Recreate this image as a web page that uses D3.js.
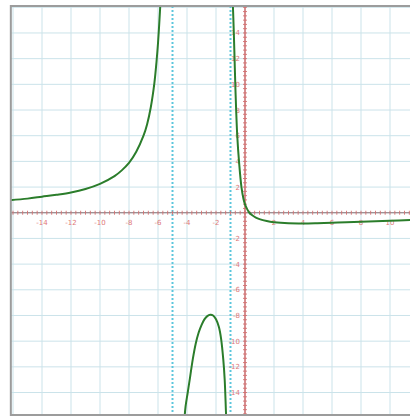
<!DOCTYPE html>
<html>
<head>
<meta charset="utf-8">
<script src="https://cdn.jsdelivr.net/npm/d3@7"></script>
<style>
  html, body { margin: 0; padding: 0; background: #ffffff; }
  svg { display: block; }
</style>
</head>
<body>
<svg id="chart" width="410" height="420"></svg>
<script>
// Tick labels on the two axes
const xTickLabels = [-14, -12, -10, -8, -6, -4, -2, 2, 4, 6, 8, 10];
const yTickLabels = [14, 12, 10, 8, 6, 4, 2, -2, -4, -6, -8, -10, -12, -14];

// Vertical asymptotes
const asymptotes = [-5, -1];

// Left branch (x < -5)
const leftX = [-16.2, -15, -14, -13, -12, -11, -10, -9, -8.5, -8, -7.5, -7, -6.75, -6.5, -6.25, -6.1, -6.0, -5.9, -5.82];
const leftY = [0.98, 1.1, 1.25, 1.4, 1.58, 1.85, 2.25, 2.85, 3.3, 3.88, 4.75, 6.0, 6.9, 8.2, 10.1, 11.8, 13.2, 15.0, 16.6];

// Middle branch (-5 < x < -1)
const midX = [-4.2, -4.1, -3.95, -3.8, -3.6, -3.4, -3.2, -3.0, -2.8, -2.6, -2.4, -2.2, -2.0, -1.8, -1.65, -1.5, -1.4, -1.31, -1.27];
const midY = [-16.4, -15.1, -14.0, -12.9, -11.4, -10.2, -9.35, -8.75, -8.3, -8.05, -7.95, -8.0, -8.3, -8.9, -9.8, -11.4, -13.0, -15.6, -16.6];

// Right branch (x > -1)
const rightX = [-0.85, -0.77, -0.72, -0.67, -0.61, -0.53, -0.41, -0.24, -0.1, 0, 0.15, 0.3, 0.5, 0.75, 1.0, 1.5, 2, 3, 4, 5, 6, 7, 8, 9, 10, 11, 12];
const rightY = [16.6, 14.0, 12.0, 10.0, 8.0, 5.9, 3.95, 1.95, 1.05, 0.65, 0.28, 0.0, -0.2, -0.38, -0.5, -0.65, -0.74, -0.82, -0.83, -0.81, -0.78, -0.74, -0.7, -0.66, -0.62, -0.58, -0.55];

const svg = d3.select("#chart");

const xMin = -16.15, xMax = 12.3, yMin = -15.75, yMax = 16.1;
const x = d3.scaleLinear().domain([-16, 12]).range([13, 419]);
const y = d3.scaleLinear().domain([yMin, yMax]).range([415, 6]);

const pLeft = x(xMin), pRight = x(xMax), pTop = y(yMax), pBottom = y(yMin);

svg.append("defs").append("clipPath").attr("id", "plotClip")
  .append("rect")
  .attr("x", pLeft).attr("y", pTop)
  .attr("width", pRight - pLeft).attr("height", pBottom - pTop);

const plot = svg.append("g").attr("clip-path", "url(#plotClip)");

// Grid every 2 units
const gridX = d3.range(-16, 13, 2);
const gridY = d3.range(-14, 17, 2);
plot.append("g").selectAll("line").data(gridX).join("line")
  .attr("x1", d => x(d)).attr("x2", d => x(d))
  .attr("y1", pTop).attr("y2", pBottom)
  .attr("stroke", "#cbe3ea").attr("stroke-width", 1);
plot.append("g").selectAll("line").data(gridY).join("line")
  .attr("x1", pLeft).attr("x2", pRight)
  .attr("y1", d => y(d)).attr("y2", d => y(d))
  .attr("stroke", "#cbe3ea").attr("stroke-width", 1);

// Asymptotes
plot.append("g").selectAll("line").data(asymptotes).join("line")
  .attr("x1", d => x(d)).attr("x2", d => x(d))
  .attr("y1", pTop).attr("y2", pBottom)
  .attr("stroke", "#5cc6dc").attr("stroke-width", 2)
  .attr("stroke-dasharray", "2,2");

// Axes with minor ticks every third of a unit
const axisRed = "#d47070";
const minorX = d3.range(-48, 37).map(i => i / 3);
const minorY = d3.range(-48, 49).map(i => i / 3);

plot.append("line")
  .attr("x1", pLeft).attr("x2", pRight)
  .attr("y1", y(0)).attr("y2", y(0))
  .attr("stroke", "#8b7377").attr("stroke-width", 1.2);
plot.append("g").selectAll("line").data(minorX).join("line")
  .attr("x1", d => x(d)).attr("x2", d => x(d))
  .attr("y1", y(0) - 2).attr("y2", y(0) + 2)
  .attr("stroke", axisRed).attr("stroke-width", 0.9);

plot.append("line")
  .attr("x1", x(0)).attr("x2", x(0))
  .attr("y1", pTop).attr("y2", pBottom)
  .attr("stroke", "#cc5a5a").attr("stroke-width", 1.3);
plot.append("g").selectAll("line").data(minorY).join("line")
  .attr("x1", x(0) - 2).attr("x2", x(0) + 2)
  .attr("y1", d => y(d)).attr("y2", d => y(d))
  .attr("stroke", axisRed).attr("stroke-width", 0.9);

// Tick labels
const labelColor = "#e07878";
plot.append("g").selectAll("text").data(xTickLabels).join("text")
  .attr("x", d => x(d)).attr("y", y(0) + 12)
  .attr("text-anchor", "middle")
  .attr("font-family", "DejaVu Sans, sans-serif")
  .attr("font-size", 7).attr("fill", labelColor)
  .text(d => d);
plot.append("g").selectAll("text").data(yTickLabels).join("text")
  .attr("x", x(0) - 5).attr("y", d => y(d) + 2.5)
  .attr("text-anchor", "end")
  .attr("font-family", "DejaVu Sans, sans-serif")
  .attr("font-size", 7).attr("fill", labelColor)
  .text(d => d);

// Function branches
const line = d3.line()
  .x(d => x(d[0])).y(d => y(d[1]))
  .curve(d3.curveCatmullRom.alpha(0.5));

const branches = [
  d3.zip(leftX, leftY),
  d3.zip(midX, midY),
  d3.zip(rightX, rightY)
];
plot.append("g").selectAll("path").data(branches).join("path")
  .attr("d", line)
  .attr("fill", "none")
  .attr("stroke", "#2b7d2b")
  .attr("stroke-width", 2)
  .attr("stroke-linejoin", "round");

// Frame
svg.append("rect")
  .attr("x", pLeft).attr("y", pTop)
  .attr("width", pRight - pLeft).attr("height", pBottom - pTop)
  .attr("fill", "none")
  .attr("stroke", "#9c9c9c").attr("stroke-width", 2);
</script>
</body>
</html>
